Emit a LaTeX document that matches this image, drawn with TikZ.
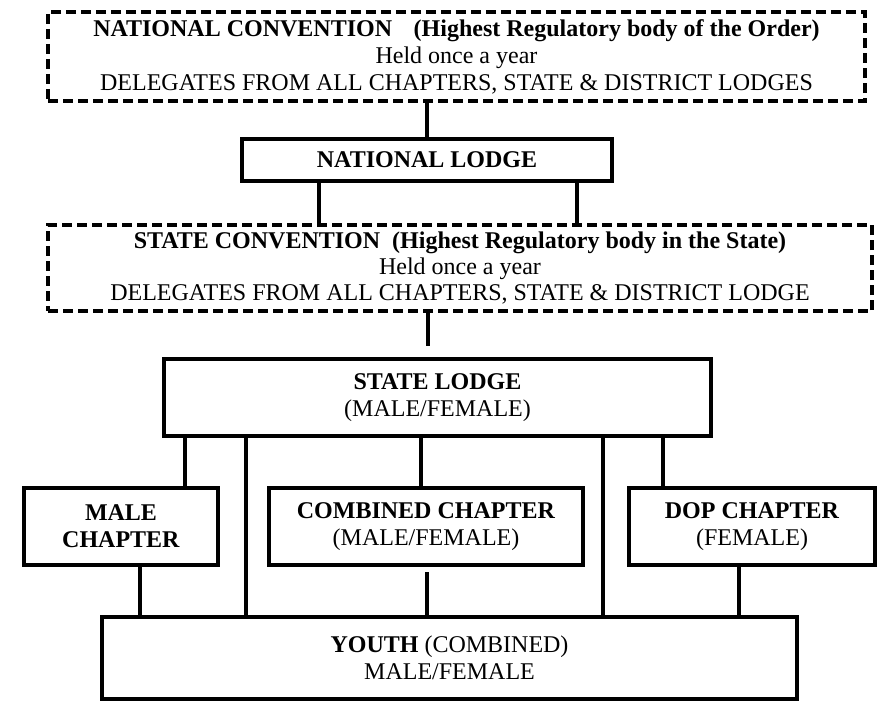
\documentclass[tikz,border=0pt]{standalone}
\usepackage{fontspec}
\setmainfont{Liberation Serif}
\usepackage{tikz}
\usetikzlibrary{positioning,calc}

\begin{document}
\begin{tikzpicture}[
    x=1pt, y=-1pt,
    font=\fontsize{24}{27}\selectfont,
    conv/.style={
        draw,
        line width=4pt,
        dash pattern=on 10pt off 5pt,
        align=center,
        inner sep=0pt
    },
    box/.style={
        draw,
        line width=4pt,
        align=center,
        inner sep=0pt
    },
    link/.style={line width=4pt}
]
    \useasboundingbox (0,0) rectangle (881,701);
    %% National level
    \node[conv, minimum width=817pt, minimum height=89pt] (natconv) at (456.5,56.5)
        {\textbf{NATIONAL CONVENTION\hspace{0.9em}(Highest Regulatory body of the Order)}\\
         Held once a year\\
         DELEGATES FROM ALL CHAPTERS, STATE \& DISTRICT LODGES};
    \node[box, minimum width=370pt, minimum height=42pt] (natlodge) at (427,160)
        {\textbf{NATIONAL LODGE}};
    %% State level
    \node[conv, minimum width=824pt, minimum height=86pt,
          font=\fontsize{24}{26}\selectfont] (stconv) at (460,268)
        {\textbf{STATE CONVENTION\ \ (Highest Regulatory body in the State)}\\
         Held once a year\\
         DELEGATES FROM ALL CHAPTERS, STATE \& DISTRICT LODGE};
    \node[box, minimum width=547pt, minimum height=77pt] (stlodge) at (437.5,397.5)
        {\textbf{STATE LODGE}\\(MALE/FEMALE)};
    %% Chapters
    \node[box, minimum width=194pt, minimum height=77pt] (male) at (121,526.5)
        {\textbf{MALE}\\\textbf{CHAPTER}};
    \node[box, minimum width=314pt, minimum height=77pt] (comb) at (426,526.5)
        {\textbf{COMBINED CHAPTER}\\(MALE/FEMALE)};
    \node[box, minimum width=246pt, minimum height=77pt] (dop) at (752,526.5)
        {\textbf{DOP CHAPTER}\\(FEMALE)};
    %% Youth
    \node[box, minimum width=695pt, minimum height=82pt] (youth) at (449.5,657.5)
        {\textbf{YOUTH} (COMBINED)\\MALE/FEMALE};

    %% Links
    \draw[link] (natlodge.north |- natconv.south) -- (natlodge.north);
    \draw[link] ([xshift=-108pt]natlodge.south) -- ([xshift=-108pt]natlodge.south |- stconv.north);
    \draw[link] ([xshift=150pt]natlodge.south) -- ([xshift=150pt]natlodge.south |- stconv.north);
    \draw[link] ([xshift=-10pt]stlodge.north |- stconv.south) -- ([xshift=-10pt,yshift=11pt]stlodge.north);
    \draw[link] ([xshift=64pt]male.north |- stlodge.south) -- ([xshift=64pt]male.north);
    \draw[link] ([xshift=-192pt]stlodge.south) -- ([xshift=-192pt]stlodge.south |- youth.north);
    \draw[link] ([xshift=-5pt]comb.north |- stlodge.south) -- ([xshift=-5pt]comb.north);
    \draw[link] ([xshift=165pt]stlodge.south) -- ([xshift=165pt]stlodge.south |- youth.north);
    \draw[link] ([xshift=-89pt]dop.north |- stlodge.south) -- ([xshift=-89pt]dop.north);
    \draw[link] ([xshift=19pt]male.south) -- ([xshift=19pt]male.south |- youth.north);
    \draw[link] ([xshift=1pt,yshift=-5pt]comb.south) -- ([xshift=1pt]comb.south |- youth.north);
    \draw[link] ([xshift=-13pt]dop.south) -- ([xshift=-13pt]dop.south |- youth.north);
\end{tikzpicture}
\end{document}
